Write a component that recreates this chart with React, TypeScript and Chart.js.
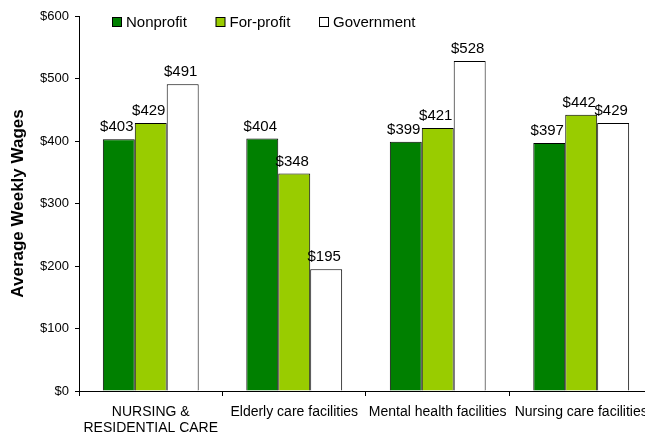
import React, { useEffect, useRef } from "react";
import { Chart, registerables } from "chart.js";

Chart.register(...registerables);

const categories: (string | string[])[] = [
  ["NURSING &", "RESIDENTIAL CARE"],
  "Elderly care facilities",
  "Mental health facilities",
  "Nursing care facilities",
];
const seriesNames = ["Nonprofit", "For-profit", "Government"];
const nonprofit = [403, 404, 399, 397];
const forProfit = [429, 348, 421, 442];
const government = [491, 195, 528, 429];
const yMin = 0;
const yMax = 600;
const yStep = 100;

const FONT = "Arial, 'Liberation Sans', sans-serif";

const valueLabels = {
  id: "valueLabels",
  afterDatasetsDraw(chart: any) {
    const ctx = chart.ctx;
    ctx.save();
    ctx.font = `15px ${FONT}`;
    ctx.fillStyle = "#000";
    ctx.textAlign = "center";
    ctx.textBaseline = "alphabetic";
    chart.data.datasets.forEach((ds: any, di: number) => {
      const meta = chart.getDatasetMeta(di);
      meta.data.forEach((el: any, i: number) => {
        ctx.fillText("$" + ds.data[i], el.x - 2, el.y - 8);
      });
    });
    ctx.restore();
  },
};

const insideLegend = {
  id: "insideLegend",
  afterDraw(chart: any) {
    const ctx = chart.ctx;
    const area = chart.chartArea;
    ctx.save();
    ctx.font = `15px ${FONT}`;
    ctx.textBaseline = "middle";
    ctx.textAlign = "left";
    const y = area.top + 6;
    chart.data.datasets.forEach((ds: any, i: number) => {
      const x = area.left + 33 + i * 103.5;
      ctx.fillStyle = ds.backgroundColor;
      ctx.fillRect(x + 0.5, y - 4.5, 9, 9);
      ctx.strokeStyle = "#000";
      ctx.lineWidth = 1;
      ctx.strokeRect(x + 0.5, y - 4.5, 9, 9);
      ctx.fillStyle = "#000";
      ctx.fillText(ds.label, x + 14, y + 1);
    });
    ctx.restore();
  },
};

export default function App() {
  const ref = useRef<HTMLCanvasElement | null>(null);
  useEffect(() => {
    if (!ref.current) return;
    const chart = new Chart(ref.current, {
      type: "bar",
      data: {
        labels: categories as any,
        datasets: [
          {
            label: seriesNames[0],
            data: nonprofit,
            backgroundColor: "#008000",
            borderColor: "#000",
            borderWidth: 1,
          },
          {
            label: seriesNames[1],
            data: forProfit,
            backgroundColor: "#99CC00",
            borderColor: "#000",
            borderWidth: 1,
          },
          {
            label: seriesNames[2],
            data: government,
            backgroundColor: "#FFFFFF",
            borderColor: "#000",
            borderWidth: 1,
          },
        ],
      },
      options: {
        animation: false,
        responsive: false,
        maintainAspectRatio: false,
        layout: { padding: { top: 16, right: 2, left: 0, bottom: 0 } },
        datasets: { bar: { categoryPercentage: 0.668, barPercentage: 1 } },
        plugins: {
          legend: { display: false },
          tooltip: { enabled: false },
        },
        scales: {
          x: {
            grid: {
              offset: true,
              drawOnChartArea: false,
              drawTicks: true,
              tickLength: 5,
              color: "#000",
            },
            border: { display: true, color: "#000", width: 1 },
            ticks: {
              color: "#000",
              font: { family: FONT, size: 14, lineHeight: 1.15 },
              padding: 8,
              maxRotation: 0,
              autoSkip: false,
            },
            afterFit(scale: any) {
              scale.height = 43;
            },
          },
          y: {
            min: yMin,
            max: yMax,
            ticks: {
              stepSize: yStep,
              color: "#000",
              font: { family: FONT, size: 13 },
              padding: 6,
              callback: (v: any) => "$" + v,
            },
            grid: {
              drawOnChartArea: false,
              drawTicks: true,
              tickLength: 4,
              color: "#000",
            },
            border: { display: true, color: "#000", width: 1 },
            title: {
              display: true,
              text: "Average Weekly Wages",
              color: "#000",
              font: { family: FONT, size: 17, weight: "bold", lineHeight: 1.2 },
              padding: { top: 8, bottom: 0 },
            },
            afterFit(scale: any) {
              scale.width = 79;
            },
          },
        },
      },
      plugins: [valueLabels, insideLegend],
    });
    return () => chart.destroy();
  }, []);
  return (
    <div style={{ position: "fixed", left: 0, top: 0, width: 656, height: 434, background: "#fff" }}>
      <canvas ref={ref} width={656} height={434} style={{ width: 656, height: 434, display: "block" }} />
    </div>
  );
}
